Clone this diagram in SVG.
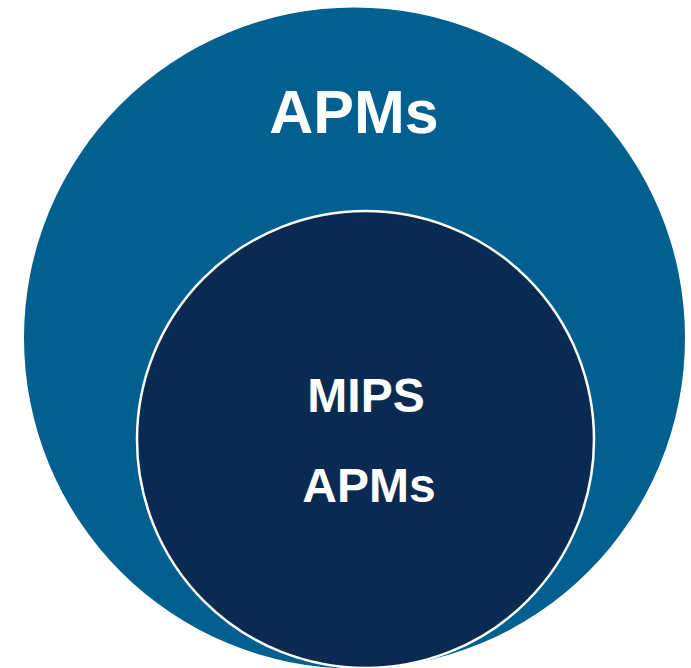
<svg xmlns="http://www.w3.org/2000/svg" width="691" height="668" viewBox="0 0 691 668">
<style>
.lbl{font-family:"Liberation Sans",Arial,sans-serif;font-weight:bold;fill:#ffffff;text-anchor:middle}
</style>
<rect width="691" height="668" fill="#ffffff"/>
<g id="outer">
<circle cx="354.5" cy="338" r="330.5" fill="#01608f"/>
<text class="lbl" x="354" y="133" font-size="61">APMs</text>
</g>
<g id="inner">
<circle cx="365.5" cy="439.5" r="228.5" fill="#0a2a52" stroke="#ffffff" stroke-width="2.5"/>
<text class="lbl" x="366" y="412" font-size="48">MIPS</text>
<text class="lbl" x="369" y="502" font-size="48">APMs</text>
</g>
<g id="connectors"></g>
</svg>
